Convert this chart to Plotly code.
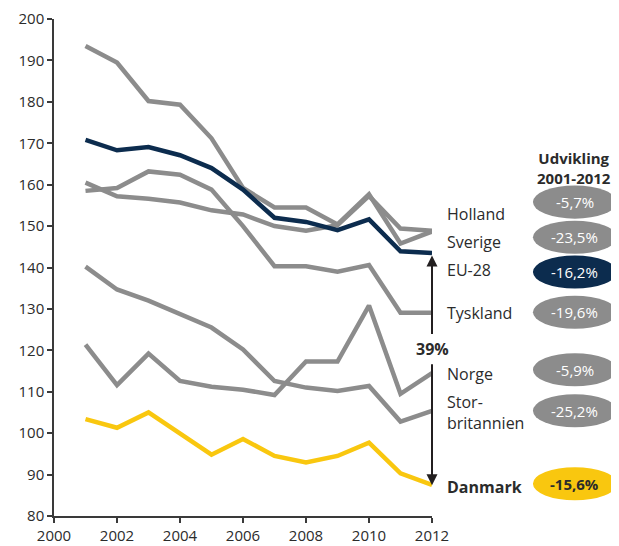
import plotly.graph_objects as go

years = [2001, 2002, 2003, 2004, 2005, 2006, 2007, 2008, 2009, 2010, 2011, 2012]
holland = [160.5, 157.2, 156.6, 155.7, 153.8, 152.8, 150.0, 148.9, 150.2, 157.3, 149.4, 148.9]
sverige = [193.5, 189.5, 180.2, 179.3, 171.2, 159.2, 154.5, 154.5, 150.4, 157.7, 145.8, 148.7]
eu28 = [170.8, 168.3, 169.1, 167.1, 164.0, 158.8, 152.0, 151.0, 149.0, 151.6, 143.9, 143.5]
tyskland = [158.5, 159.2, 163.2, 162.4, 158.8, 150.0, 140.3, 140.3, 139.0, 140.6, 129.1, 129.1]
norge = [121.4, 111.6, 119.2, 112.6, 111.2, 110.5, 109.2, 117.3, 117.3, 130.8, 109.5, 114.5]
storbritannien = [140.2, 134.7, 132.0, 128.7, 125.5, 120.2, 112.6, 111.0, 110.2, 111.4, 102.8, 105.4]
danmark = [103.4, 101.3, 105.0, 99.9, 94.8, 98.6, 94.5, 92.9, 94.5, 97.7, 90.3, 87.5]

country_labels = ["Holland", "Sverige", "EU-28", "Tyskland", "Norge", "Stor-<br>britannien", "<b>Danmark</b>"]
label_y = [152.8, 146.1, 139.4, 129.0, 114.3, 105.1, 86.9]
changes = ["-5,7%", "-23,5%", "-16,2%", "-19,6%", "-5,9%", "-25,2%", "<b>-15,6%</b>"]
change_y = [155.8, 147.3, 138.9, 129.2, 115.3, 105.4, 87.8]
x_ticks = [2000, 2002, 2004, 2006, 2008, 2010, 2012]
y_ticks = [80, 90, 100, 110, 120, 130, 140, 150, 160, 170, 180, 190, 200]

GRAY = "#8c8c8c"
NAVY = "#0c2c4e"
YELLOW = "#f9c70f"
TXT = "#2b2b2b"
FONT = "Open Sans"

fig = go.Figure()
for s in [holland, sverige, tyskland, norge, storbritannien]:
    fig.add_trace(go.Scatter(x=years, y=s, mode="lines",
                             line=dict(color=GRAY, width=4.5), showlegend=False,
                             hoverinfo="skip"))
fig.add_trace(go.Scatter(x=years, y=eu28, mode="lines",
                         line=dict(color=NAVY, width=4.5), showlegend=False))
fig.add_trace(go.Scatter(x=years, y=danmark, mode="lines",
                         line=dict(color=YELLOW, width=4.5), showlegend=False))

ann = []
for lab, yv in zip(country_labels, label_y):
    ann.append(dict(x=2012, y=yv, xref="x", yref="y", text=lab, showarrow=False,
                    xanchor="left", yanchor="middle", xshift=13,
                    font=dict(family=FONT, size=16, color=TXT), align="left"))
fill_colors = [GRAY, GRAY, NAVY, GRAY, GRAY, GRAY, YELLOW]
shapes = []
for i, (ch, yv) in enumerate(zip(changes, change_y)):
    shapes.append(dict(type="circle", xref="paper", yref="y",
                       x0=1.267, x1=1.489, y0=yv - 4.0, y1=yv + 4.0,
                       fillcolor=fill_colors[i], line=dict(width=0), layer="above"))
    ann.append(dict(x=1.378, y=yv, xref="paper", yref="y", text=ch, showarrow=False,
                    xanchor="center", yanchor="middle",
                    font=dict(family=FONT, size=15,
                              color=TXT if fill_colors[i] == YELLOW else "white")))
ann.append(dict(x=1.375, y=164.0, xref="paper", yref="y",
                text="<b>Udvikling<br>2001-2012</b>", showarrow=False,
                xanchor="center", yanchor="middle",
                font=dict(family=FONT, size=15, color=TXT)))
ann.append(dict(x=2012, y=142.9, xref="x", yref="y", ax=2012, ay=123.6,
                axref="x", ayref="y", text="", showarrow=True, arrowhead=2,
                arrowsize=1.1, arrowwidth=2, arrowcolor="#231f20", standoff=0))
ann.append(dict(x=2012, y=87.4, xref="x", yref="y", ax=2012, ay=117.0,
                axref="x", ayref="y", text="", showarrow=True, arrowhead=2,
                arrowsize=1.1, arrowwidth=2, arrowcolor="#231f20", standoff=0))
ann.append(dict(x=2012, y=120.3, xref="x", yref="y", text="<b>39%</b>", showarrow=False,
                xanchor="center", yanchor="middle",
                font=dict(family=FONT, size=16, color=TXT)))

shapes.append(dict(type="line", xref="x", yref="y", x0=2012.16, y0=150.75,
                   x1=2012.35, y1=152.9, line=dict(color="#231f20", width=2)))
shapes.append(dict(type="line", xref="x", yref="y", x0=2012.21, y0=143.5,
                   x1=2012.37, y1=139.9, line=dict(color="#231f20", width=2)))

fig.update_layout(
    width=611, height=539,
    margin=dict(l=46, r=187, t=11, b=31),
    paper_bgcolor="white", plot_bgcolor="white",
    annotations=ann, shapes=shapes,
    font=dict(family=FONT, size=15, color=TXT),
)
fig.update_xaxes(range=[2000, 2012], tickvals=x_ticks, ticks="outside", ticklen=5,
                 tickwidth=1.5, tickcolor="#3a3a3a", showline=True, linecolor="#3a3a3a",
                 linewidth=1.5, showgrid=False, zeroline=False, automargin=False,
                 ticklabeloverflow="allow",
                 tickfont=dict(family=FONT, size=15, color=TXT))
fig.update_yaxes(range=[80, 200], tickvals=y_ticks, ticks="outside", ticklen=5,
                 tickwidth=1.5, tickcolor="#3a3a3a", showline=True, linecolor="#3a3a3a",
                 linewidth=1.5, showgrid=False, zeroline=False, automargin=False,
                 ticklabeloverflow="allow",
                 tickfont=dict(family=FONT, size=15, color=TXT))

fig.write_html("out.html")
